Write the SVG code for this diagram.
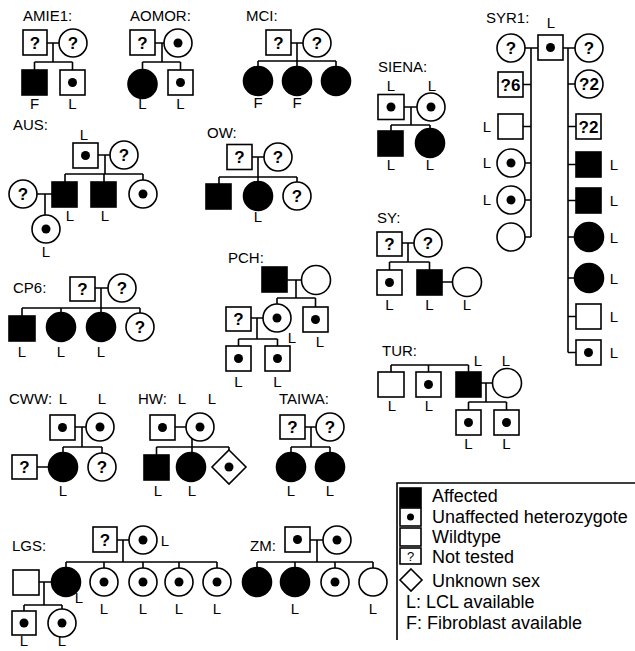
<svg xmlns="http://www.w3.org/2000/svg" width="635" height="651" viewBox="0 0 635 651">
<style>
.s{fill:#fff;stroke:#000;stroke-width:1.6}
.f{fill:#000;stroke:#000;stroke-width:1.6}
.d{fill:#000}
.c{fill:none;stroke:#000;stroke-width:1.6}
text{font-family:"Liberation Sans",Arial,sans-serif;font-size:15px;fill:#000}
.q{font-weight:bold;font-size:17px;text-anchor:middle}
.m{text-anchor:middle}
.lg{font-size:18px}
</style>
<rect width="635" height="651" fill="#fff"/>
<g id="labels">
<text x="23" y="21">AMIE1:</text>
<text x="130" y="21">AOMOR:</text>
<text x="246" y="21">MCI:</text>
<text x="378" y="72">SIENA:</text>
<text x="486" y="23">SYR1:</text>
<text x="13" y="130">AUS:</text>
<text x="207" y="138">OW:</text>
<text x="377" y="223">SY:</text>
<text x="228" y="263">PCH:</text>
<text x="13" y="293">CP6:</text>
<text x="382" y="356">TUR:</text>
<text x="9" y="404">CWW:</text>
<text x="138" y="404">HW:</text>
<text x="279" y="404">TAIWA:</text>
<text x="12" y="551">LGS:</text>
<text x="250" y="551">ZM:</text>
</g>
<g id="connectors">
<path class="c" d="M47 43H59M53 43V62M34.5 62H72.5M34.5 62V70M72.5 62V70"/>
<path class="c" d="M155 43H164M162 43V62M142.5 62H180.5M142.5 62V69.5M180.5 62V70"/>
<path class="c" d="M291 43H303M297 43V61M258 61H336M258 61V66.5M297 61V66.5M336 61V66.5"/>
<path class="c" d="M404 107H417M411 107V125M391 125H430M391 125V131M430 125V128.5"/>
<path class="c" d="M525 48H538M563 48H575M531 48V237M568 48V352.5"/>
<path class="c" d="M523 84.5H531M523 126.5H531M525 163H531M525 200H531M525 237H531"/>
<path class="c" d="M568 84H575M568 126.5H576M568 164.5H576M568 200.5H576M568 237H574.5M568 278H574.5M568 316.5H576M568 352.5H576"/>
<path class="c" d="M98 155H110M105 155V174M65 174H143M65 174V182M104 174V182M143 174V180M37 194H52M45 194V215"/>
<path class="c" d="M252 157H264M258 157V177M219 177H297M219 177V184M258 177V181.5M297 177V182"/>
<path class="c" d="M95 288H108M101 288V308M22 308H140M22 308V316M61 308V312.5M101 308V312.5M140 308V313"/>
<path class="c" d="M287 280H301.5M296 280V298M277 298H315.5M277 298V304M315.5 298V307M251 318H263M257 318V339M238.5 339H277.5M238.5 339V346M277.5 339V346"/>
<path class="c" d="M402 243H414M408 243V262M389.5 262H429.5M389.5 262V270M429.5 262V270M442 282H452.5"/>
<path class="c" d="M391 365H468.5M391 365V372M428.5 365V372M468.5 365V372M481 383H492.5M486 383V402M468.5 402H506.5M468.5 402V410M506.5 402V410"/>
<path class="c" d="M75 427H86M82 427V447M63 447H102M63 447V452.5M102 447V453M37 467H48.5"/>
<path class="c" d="M175 427H186M192 427V447M156.5 447H229M156.5 447V455M192 447V452.5M229 447V450"/>
<path class="c" d="M305 427H316M311 427V447M291 447H330M291 447V452.5M330 447V452.5"/>
<path class="c" d="M117 540H129M123 540V562M66 562H217M66 562V567.5M104 562V568M143 562V568M179 562V568M217 562V568M39 582H51.5M44 582V605M24 605H62M24 605V611M62 605V609"/>
<path class="c" d="M310 540H323M317 540V562M257 562H373M257 562V567.5M295 562V567.5M335 562V568M373 562V568"/>
</g>
<g id="amie1">
<rect class="s" x="23" y="30" width="24" height="25"/><text class="q" x="35" y="49">?</text>
<circle class="s" cx="73" cy="43" r="14"/><text class="q" x="73" y="49">?</text>
<rect class="f" x="22" y="70" width="25" height="25"/><text class="m" x="34.5" y="109">F</text>
<rect class="s" x="60" y="70" width="25" height="25"/><circle class="d" cx="72.5" cy="82.5" r="4.5"/><text class="m" x="72.5" y="109">L</text>
</g>
<g id="aomor">
<rect class="s" x="130" y="30" width="25" height="25"/><text class="q" x="142.5" y="49">?</text>
<circle class="s" cx="178" cy="43" r="14"/><circle class="d" cx="178" cy="43" r="4.5"/>
<circle class="f" cx="142.5" cy="84" r="14.5"/><text class="m" x="142.5" y="109">L</text>
<rect class="s" x="168" y="70" width="25" height="25"/><circle class="d" cx="180.5" cy="82.5" r="4.5"/><text class="m" x="180.5" y="109">L</text>
</g>
<g id="mci">
<rect class="s" x="266" y="30" width="25" height="25"/><text class="q" x="278.5" y="49">?</text>
<circle class="s" cx="317" cy="43" r="14"/><text class="q" x="317" y="49">?</text>
<circle class="f" cx="258" cy="81" r="14.5"/><text class="m" x="258" y="108">F</text>
<circle class="f" cx="297" cy="81" r="14.5"/><text class="m" x="297" y="108">F</text>
<circle class="f" cx="336" cy="81" r="14.5"/>
</g>
<g id="siena">
<text class="m" x="391" y="91">L</text><text class="m" x="432" y="91">L</text>
<rect class="s" x="378" y="94.5" width="26" height="25"/><circle class="d" cx="391" cy="107" r="4.5"/>
<circle class="s" cx="431" cy="107" r="14"/><circle class="d" cx="431" cy="107" r="4.5"/>
<rect class="f" x="378" y="131" width="25" height="25"/><text class="m" x="391" y="170">L</text>
<circle class="f" cx="430" cy="143" r="14.5"/><text class="m" x="430" y="170">L</text>
</g>
<g id="syr1">
<text class="m" x="551" y="28">L</text>
<rect class="s" x="538" y="35" width="25" height="25"/><circle class="d" cx="550.5" cy="47.5" r="4.5"/>
<circle class="s" cx="511" cy="48" r="14"/><text class="q" x="511" y="54">?</text>
<circle class="s" cx="589" cy="48" r="14"/><text class="q" x="589" y="54">?</text>
<rect class="s" x="498" y="72" width="25" height="25"/><text class="q" x="510.5" y="91">?6</text>
<rect class="s" x="498" y="114" width="25" height="25"/><text class="m" x="487" y="132">L</text>
<circle class="s" cx="511" cy="163" r="14"/><circle class="d" cx="511" cy="163" r="4.5"/><text class="m" x="487" y="168">L</text>
<circle class="s" cx="511" cy="200" r="14"/><circle class="d" cx="511" cy="200" r="4.5"/><text class="m" x="487" y="205">L</text>
<circle class="s" cx="511" cy="237" r="14"/>
<circle class="s" cx="589" cy="84" r="14"/><text class="q" x="589" y="90">?2</text>
<rect class="s" x="576" y="114" width="25" height="25"/><text class="q" x="588.5" y="133">?2</text>
<rect class="f" x="576" y="152" width="25" height="25"/><text class="m" x="614" y="170">L</text>
<rect class="f" x="576" y="188" width="25" height="25"/><text class="m" x="614" y="206">L</text>
<circle class="f" cx="589" cy="237" r="14.5"/><text class="m" x="614" y="243">L</text>
<circle class="f" cx="589" cy="278" r="14.5"/><text class="m" x="614" y="284">L</text>
<rect class="s" x="576" y="304" width="25" height="25"/><text class="m" x="614" y="322">L</text>
<rect class="s" x="576" y="340" width="25" height="25"/><circle class="d" cx="588.5" cy="352.5" r="4.5"/><text class="m" x="614" y="358">L</text>
</g>
<g id="aus">
<text class="m" x="84" y="140">L</text>
<rect class="s" x="73" y="143" width="25" height="25"/><circle class="d" cx="85.5" cy="155.5" r="4.5"/>
<circle class="s" cx="124" cy="155" r="14"/><text class="q" x="124" y="161">?</text>
<rect class="f" x="52" y="182" width="25" height="25"/><text class="m" x="70" y="221">L</text>
<rect class="f" x="91" y="182" width="25" height="25"/><text class="m" x="105" y="221">L</text>
<circle class="s" cx="143" cy="194" r="14"/><circle class="d" cx="143" cy="194" r="4.5"/>
<circle class="s" cx="23" cy="194" r="14"/><text class="q" x="23" y="200">?</text>
<circle class="s" cx="46" cy="229" r="14"/><circle class="d" cx="46" cy="229" r="4.5"/><text class="m" x="46" y="257">L</text>
</g>
<g id="ow">
<rect class="s" x="227" y="144.5" width="25" height="25"/><text class="q" x="239.5" y="163">?</text>
<circle class="s" cx="278" cy="157" r="14"/><text class="q" x="278" y="163">?</text>
<rect class="f" x="206" y="184" width="25" height="25"/>
<circle class="f" cx="258" cy="196" r="14.5"/><text class="m" x="258" y="222">L</text>
<circle class="s" cx="297" cy="196" r="14"/><text class="q" x="297" y="202">?</text>
</g>
<g id="sy">
<rect class="s" x="377" y="232" width="25" height="24"/><text class="q" x="389.5" y="250">?</text>
<circle class="s" cx="428" cy="243" r="14"/><text class="q" x="428" y="249">?</text>
<rect class="s" x="377" y="270" width="25" height="25"/><circle class="d" cx="389.5" cy="282.5" r="4.5"/><text class="m" x="389.5" y="310">L</text>
<rect class="f" x="417" y="270" width="25" height="25"/><text class="m" x="429.5" y="310">L</text>
<circle class="s" cx="467" cy="282" r="14.5"/><text class="m" x="467" y="310">L</text>
</g>
<g id="pch">
<rect class="f" x="262" y="267" width="25" height="25"/>
<circle class="s" cx="316" cy="280" r="14.5"/>
<circle class="s" cx="277" cy="318" r="14"/><circle class="d" cx="277" cy="318" r="4.5"/><text class="m" x="292" y="343">L</text>
<rect class="s" x="303" y="307" width="25" height="25"/><circle class="d" cx="315.5" cy="319.5" r="4.5"/><text class="m" x="320" y="347">L</text>
<rect class="s" x="226" y="307" width="25" height="24"/><text class="q" x="238.5" y="325">?</text>
<rect class="s" x="226" y="346" width="25" height="25"/><circle class="d" cx="238.5" cy="358.5" r="4.5"/><text class="m" x="238.5" y="387">L</text>
<rect class="s" x="265" y="346" width="25" height="25"/><circle class="d" cx="277.5" cy="358.5" r="4.5"/><text class="m" x="277.5" y="387">L</text>
</g>
<g id="cp6">
<rect class="s" x="70" y="277" width="25" height="24"/><text class="q" x="82.5" y="295">?</text>
<circle class="s" cx="122" cy="288" r="14"/><text class="q" x="122" y="294">?</text>
<rect class="f" x="9" y="316" width="26" height="25"/><text class="m" x="22" y="357">L</text>
<circle class="f" cx="61" cy="327" r="14.5"/><text class="m" x="61" y="357">L</text>
<circle class="f" cx="101" cy="327" r="14.5"/><text class="m" x="101" y="357">L</text>
<circle class="s" cx="140" cy="327" r="14"/><text class="q" x="140" y="333">?</text>
</g>
<g id="tur">
<rect class="s" x="378" y="372" width="26" height="25"/><text class="m" x="392" y="411">L</text>
<rect class="s" x="416" y="372" width="25" height="25"/><circle class="d" cx="428.5" cy="384.5" r="4.5"/><text class="m" x="429" y="411">L</text>
<rect class="f" x="456" y="372" width="25" height="25"/><text class="m" x="478" y="366">L</text>
<circle class="s" cx="507" cy="383" r="14.5"/><text class="m" x="506" y="366">L</text>
<rect class="s" x="456" y="410" width="25" height="25"/><circle class="d" cx="468.5" cy="422.5" r="4.5"/><text class="m" x="468.5" y="449">L</text>
<rect class="s" x="494" y="410" width="25" height="25"/><circle class="d" cx="506.5" cy="422.5" r="4.5"/><text class="m" x="506.5" y="449">L</text>
</g>
<g id="cww">
<text class="m" x="63" y="404">L</text><text class="m" x="102" y="404">L</text>
<rect class="s" x="50" y="415" width="25" height="25"/><circle class="d" cx="62.5" cy="427.5" r="4.5"/>
<circle class="s" cx="100" cy="427" r="14"/><circle class="d" cx="100" cy="427" r="4.5"/>
<circle class="f" cx="63" cy="467" r="14.5"/><text class="m" x="63" y="496">L</text>
<circle class="s" cx="102" cy="467" r="14"/><text class="q" x="102" y="473">?</text>
<rect class="s" x="12" y="455" width="25" height="24"/><text class="q" x="24.5" y="473">?</text>
</g>
<g id="hw">
<text class="m" x="182" y="404">L</text><text class="m" x="212" y="404">L</text>
<rect class="s" x="150" y="415" width="25" height="25"/><circle class="d" cx="162.5" cy="427.5" r="4.5"/>
<circle class="s" cx="200" cy="427" r="14"/><circle class="d" cx="200" cy="427" r="4.5"/>
<rect class="f" x="144" y="455" width="25" height="25"/><text class="m" x="158" y="496">L</text>
<circle class="f" cx="191" cy="467" r="14.5"/><text class="m" x="192" y="496">L</text>
<path class="s" d="M229 450L246 467L229 484L212 467Z"/><circle class="d" cx="229" cy="467" r="4.5"/>
</g>
<g id="taiwa">
<rect class="s" x="280" y="415" width="25" height="24"/><text class="q" x="292.5" y="433">?</text>
<circle class="s" cx="330" cy="427" r="14"/><text class="q" x="330" y="433">?</text>
<circle class="f" cx="291" cy="467" r="14.5"/><text class="m" x="291" y="496">L</text>
<circle class="f" cx="330" cy="467" r="14.5"/><text class="m" x="330" y="496">L</text>
</g>
<g id="lgs">
<rect class="s" x="93" y="527" width="24" height="25"/><text class="q" x="105" y="546">?</text>
<circle class="s" cx="143" cy="540" r="14"/><circle class="d" cx="143" cy="540" r="4.5"/><text class="m" x="165" y="546">L</text>
<circle class="f" cx="66" cy="582" r="14.5"/><text class="m" x="79" y="603">L</text>
<circle class="s" cx="104" cy="582" r="14"/><circle class="d" cx="104" cy="582" r="4.5"/><text class="m" x="104" y="614">L</text>
<circle class="s" cx="143" cy="582" r="14"/><circle class="d" cx="143" cy="582" r="4.5"/><text class="m" x="143" y="614">L</text>
<circle class="s" cx="179" cy="582" r="14"/><circle class="d" cx="179" cy="582" r="4.5"/><text class="m" x="179" y="614">L</text>
<circle class="s" cx="217" cy="582" r="14"/><circle class="d" cx="217" cy="582" r="4.5"/><text class="m" x="217" y="614">L</text>
<rect class="s" x="13" y="570" width="26" height="25"/>
<rect class="s" x="12" y="611" width="24" height="24"/><circle class="d" cx="24" cy="623" r="4.5"/><text class="m" x="24" y="646">L</text>
<circle class="s" cx="62" cy="623" r="14"/><circle class="d" cx="62" cy="623" r="4.5"/><text class="m" x="62" y="646">L</text>
</g>
<g id="zm">
<rect class="s" x="285" y="527" width="25" height="25"/><circle class="d" cx="297.5" cy="539.5" r="4.5"/>
<circle class="s" cx="337" cy="540" r="14"/><circle class="d" cx="337" cy="540" r="4.5"/>
<circle class="f" cx="257" cy="582" r="14.5"/>
<circle class="f" cx="295" cy="582" r="14.5"/><text class="m" x="295" y="614">L</text>
<circle class="s" cx="335" cy="582" r="14"/><circle class="d" cx="335" cy="582" r="4.5"/>
<circle class="s" cx="373" cy="582" r="14"/><text class="m" x="373" y="614">L</text>
</g>
<g id="legend">
<path class="c" d="M397 640V483H635"/>
<rect class="f" x="400" y="488" width="21" height="19"/><text class="lg" x="432" y="502">Affected</text>
<rect class="s" x="400" y="508" width="21" height="18"/><circle class="d" cx="410.5" cy="517" r="3.5"/><text class="lg" x="432" y="523">Unaffected heterozygote</text>
<rect class="s" x="400" y="528" width="21" height="18"/><text class="lg" x="432" y="543">Wildtype</text>
<rect class="s" x="400" y="548" width="21" height="16"/><text class="m" style="font-size:13px" x="410.5" y="561">?</text><text class="lg" x="432" y="563">Not tested</text>
<path class="s" d="M411 569L422 580L411 591L400 580Z"/><text class="lg" x="432" y="587">Unknown sex</text>
<text class="lg" x="406" y="608">L: LCL available</text>
<text class="lg" x="406" y="629">F: Fibroblast available</text>
</g>
</svg>
